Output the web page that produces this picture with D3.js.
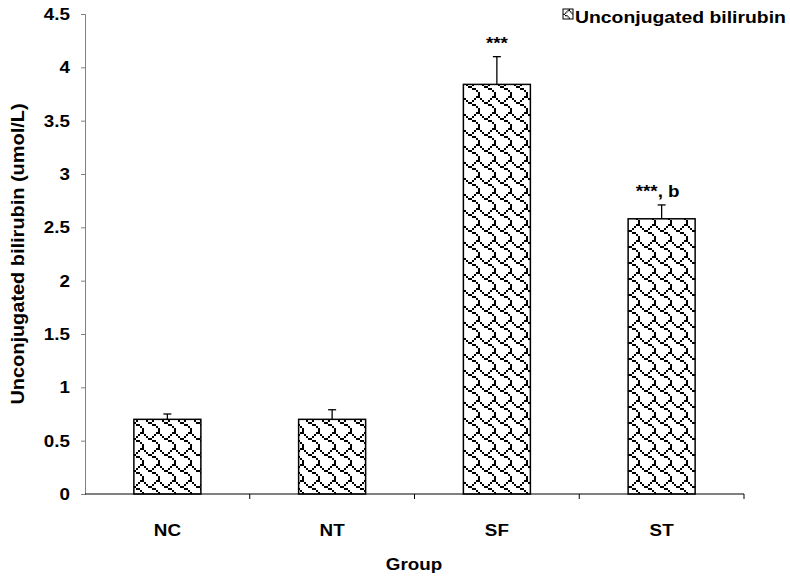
<!DOCTYPE html>
<html><head><meta charset="utf-8">
<script src="https://cdn.jsdelivr.net/npm/d3@7"></script>
<style>body{margin:0;background:#fff}svg{display:block}text{font-family:"Liberation Sans",Arial,sans-serif;font-weight:bold}</style>
</head><body><div id="c"></div>
<script>
const categories = ["NC","NT","SF","ST"];
const values = [0.70, 0.70, 3.84, 2.58];
const errors = [0.05, 0.09, 0.26, 0.13];
const annotations = ["", "", "***", "***, b"];
const yTicks = [0,0.5,1,1.5,2,2.5,3,3.5,4,4.5];
const tickLabels = ["0","0.5","1","1.5","2","2.5","3","3.5","4","4.5"];
const seriesName = "Unconjugated bilirubin";
const yTitle = "Unconjugated bilirubin (umol/L)";
const xTitle = "Group";
const shingleBits = [0x03,0x84,0x48,0x30,0x0c,0x02,0x01,0x01];

const W=790,H=577, FS=16.5, SX=1.14;
const svg=d3.select("#c").append("svg").attr("width",W).attr("height",H);
const defs=svg.append("defs");
function makePattern(id,s){
  const pat=defs.append("pattern").attr("id",id).attr("patternUnits","userSpaceOnUse")
    .attr("width",8*s).attr("height",8*s);
  pat.append("rect").attr("width",8*s).attr("height",8*s).attr("fill","#fff");
  shingleBits.forEach((b,r)=>{for(let c=0;c<8;c++){if(b&(0x80>>c)){pat.append("rect").attr("x",c*s).attr("y",r*s).attr("width",s).attr("height",s).attr("fill","#000");}}});
}
makePattern("shingle",2);
makePattern("shingleSmall",1.25);

function label(px,py,txt,anchor,rot,fs){
  const g=svg.append("g").attr("transform",`translate(${px},${py})`+(rot?` rotate(${rot})`:"")+` scale(${SX},1)`);
  g.append("text").attr("text-anchor",anchor).attr("font-size",fs||FS).attr("fill","#000").text(txt);
}

const x=d3.scaleBand().domain(categories).range([85,744]).paddingInner(0).paddingOuter(0);
const y=d3.scaleLinear().domain([0,4.5]).range([494,14]);
const bw=67;

// y axis
const ya=svg.append("g").attr("transform","translate(85,0)")
  .call(d3.axisLeft(y).tickValues(yTicks).tickFormat("").tickSize(4));
ya.select(".domain").attr("stroke","#808080");
ya.selectAll(".tick line").attr("stroke","#808080");
yTicks.forEach((v,i)=>label(70,y(v)+6,tickLabels[i],"end"));

// bars
svg.selectAll(".bar").data(categories).enter().append("rect")
  .attr("x",d=>x(d)+x.bandwidth()/2-bw/2).attr("width",bw)
  .attr("y",(d,i)=>y(values[i])).attr("height",(d,i)=>y(0)-y(values[i]))
  .attr("fill","url(#shingle)").attr("stroke","#000").attr("stroke-width",1.5);

// error bars
const eg=svg.append("g").attr("stroke","#000").attr("stroke-width",1.3);
categories.forEach((d,i)=>{
  const cx=x(d)+x.bandwidth()/2;
  const ty=y(values[i]+errors[i]);
  eg.append("line").attr("x1",cx).attr("x2",cx).attr("y1",y(values[i])).attr("y2",ty);
  eg.append("line").attr("x1",cx-4).attr("x2",cx+4).attr("y1",ty).attr("y2",ty);
  if(annotations[i]) label(cx-(i==3?4:0),ty-8,annotations[i],"middle");
});

// x axis
const xa=svg.append("g").attr("transform","translate(0,494)")
  .call(d3.axisBottom(x).tickSize(0).tickFormat(""));
xa.select(".domain").attr("stroke","#000").attr("d","M85,0H744V5");
[1,2,3].forEach(k=>{const bx=85+k*x.bandwidth();svg.append("line").attr("x1",bx).attr("x2",bx).attr("y1",494).attr("y2",499).attr("stroke","#000");});
categories.forEach(d=>label(x(d)+x.bandwidth()/2,536,d,"middle"));

// titles
label(414,570,xTitle,"middle");
label(24,254,yTitle,"middle",-90,17.5);

// legend
svg.append("rect").attr("x",563).attr("y",9).attr("width",10).attr("height",10).attr("fill","url(#shingleSmall)").attr("stroke","#000");
label(575,23,seriesName,"start",0,17);
</script></body></html>
